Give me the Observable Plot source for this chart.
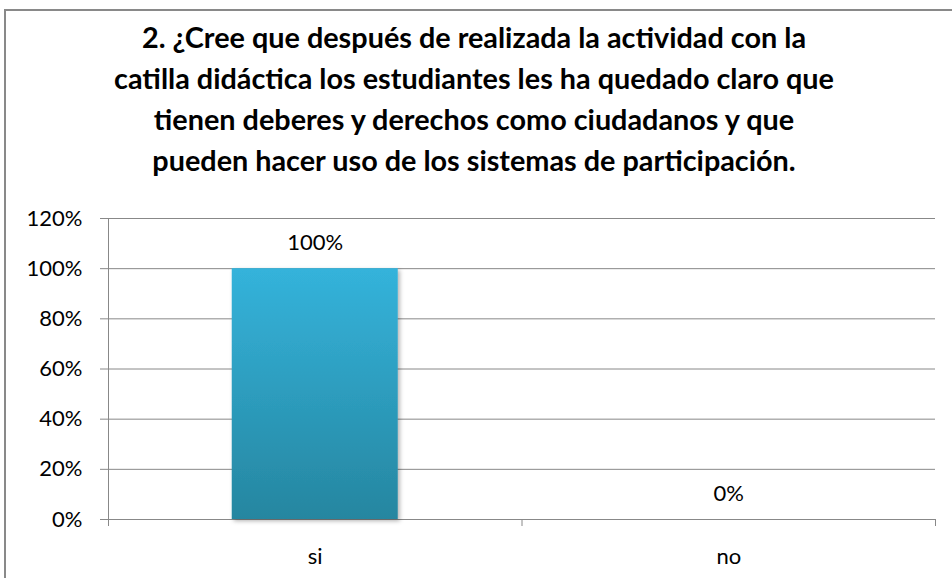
<!DOCTYPE html>
<html><head><meta charset="utf-8">
<script src="https://cdn.jsdelivr.net/npm/d3@7"></script>
<script src="https://cdn.jsdelivr.net/npm/@observablehq/plot@0.6"></script>
<style>
body{margin:0;overflow:hidden;background:#fff;width:952px;height:578px;position:relative;}
#frame{position:absolute;left:4px;top:9px;width:990px;height:620px;border:2px solid #898989;box-sizing:border-box;}
#title{position:absolute;left:0;top:17px;width:948px;text-align:center;font-family:Lato,"Open Sans",sans-serif;font-weight:bold;font-size:28.8px;line-height:41px;color:#000;}
#chart{position:absolute;left:0;top:200px;}
</style></head>
<body>
<div id="frame"></div>
<div id="title"></div>
<div id="chart"></div>
<script>
const titleLines = [
  "2. ¿Cree que después de realizada la actividad con la",
  "catilla didáctica los estudiantes les ha quedado claro que",
  "tienen deberes y derechos como ciudadanos y que",
  "pueden hacer uso de los sistemas de participación."
];
const categories = ["si", "no"];
const values = [1.00, 0.00];
const yTicks = [0, 0.2, 0.4, 0.6, 0.8, 1.0, 1.2];

document.getElementById("title").innerHTML = titleLines.join("<br>");

const data = categories.map((c, i) => ({category: c, i, value: values[i]}));
const pct = d => Math.round(d * 100) + "%";
const gray = "#888888";

const chart = Plot.plot({
  width: 952,
  height: 378,
  marginTop: 18,
  marginBottom: 59,
  marginLeft: 108,
  marginRight: 17,
  style: {fontFamily: "Lato, 'Open Sans', sans-serif", color: "#000", background: "transparent"},
  x: {type: "linear", domain: [0, categories.length], axis: null},
  y: {domain: [0, 1.2], axis: null},
  marks: [
    Plot.gridY(yTicks, {stroke: gray, strokeOpacity: 1, strokeWidth: 1}),
    Plot.ruleX([0], {stroke: gray, strokeWidth: 1}),
    Plot.axisY(yTicks, {tickSize: 8, tickPadding: 18, tickFormat: pct, fontSize: 22, stroke: gray, strokeOpacity: 1, fill: "#000", label: null}),
    Plot.axisX(d3.range(categories.length + 1), {tickSize: 7, tickFormat: () => "", stroke: gray, strokeOpacity: 1, label: null}),
    Plot.axisX(data.map(d => d.i + 0.5), {tickSize: 0, tickPadding: 29, tickFormat: v => categories[Math.floor(v)], fontSize: 22, fill: "#000", label: null}),
    Plot.rectY(data, {x1: d => d.i, x2: d => d.i + 1, y: "value", insetLeft: 123.75, insetRight: 123.75, fill: "url(#barGrad)", className: "bars"}),
    Plot.text(data, {x: d => d.i + 0.5, y: "value", text: d => pct(d.value), dy: -26, fontSize: 22, fill: "#000"})
  ]
});

const svg = d3.select(chart);
const defs = svg.insert("defs", ":first-child");
const grad = defs.append("linearGradient").attr("id", "barGrad")
  .attr("x1", 0).attr("y1", 0).attr("x2", 0).attr("y2", 1);
grad.append("stop").attr("offset", "0%").attr("stop-color", "#34b3db");
grad.append("stop").attr("offset", "100%").attr("stop-color", "#2686a0");
const filt = defs.append("filter").attr("id", "shadow").attr("x", "-10%").attr("y", "-10%").attr("width", "130%").attr("height", "130%");
filt.append("feDropShadow").attr("dx", 2).attr("dy", 2).attr("stdDeviation", 2).attr("flood-color", "#000").attr("flood-opacity", 0.3);
svg.selectAll("g.bars rect, .bars rect").attr("filter", "url(#shadow)");

document.getElementById("chart").appendChild(chart);
</script>
</body></html>
